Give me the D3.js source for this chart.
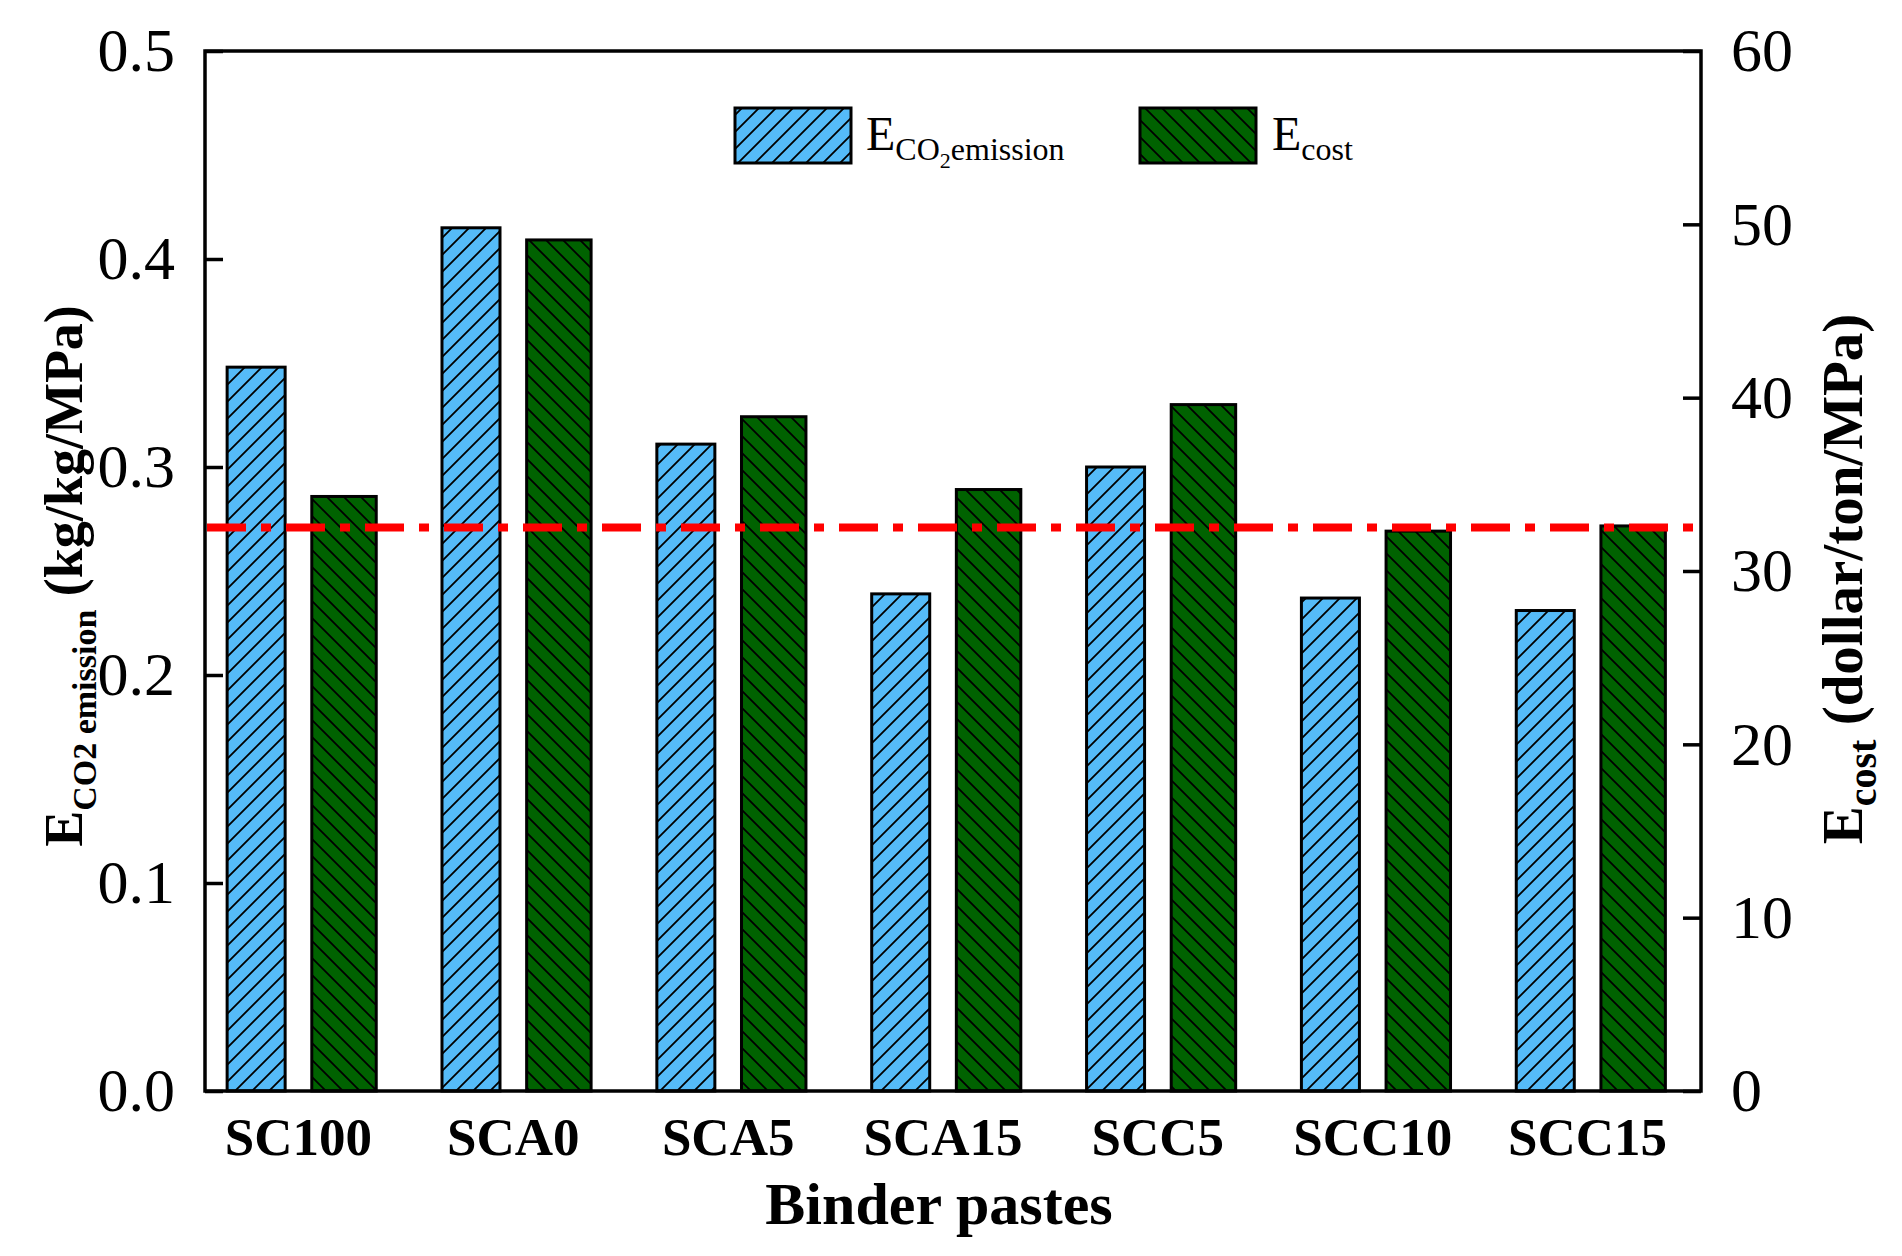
<!DOCTYPE html>
<html>
<head>
<meta charset="utf-8">
<script src="https://cdn.jsdelivr.net/npm/d3@7"></script>
<style>
  body { margin: 0; background: #fff; }
  text { font-family: "Liberation Serif", "Times New Roman", serif; }
</style>
</head>
<body>
<script>
// chart values
const categories = ["SC100", "SCA0", "SCA5", "SCA15", "SCC5", "SCC10", "SCC15"];
const co2Values = [0.348, 0.415, 0.311, 0.239, 0.300, 0.237, 0.231];
const costValues = [34.3, 49.1, 38.9, 34.7, 39.6, 32.3, 32.6];
const leftTicks = [0.0, 0.1, 0.2, 0.3, 0.4, 0.5];
const rightTicks = [0, 10, 20, 30, 40, 50, 60];
const referenceCost = 32.4;

const width = 1902, height = 1256;
const plot = { left: 205, right: 1701, top: 51, bottom: 1091 };

const svg = d3.select("body").append("svg").attr("width", width).attr("height", height);

const defs = svg.append("defs");
const makeHatch = (id, fill, d) => {
  const p = defs.append("pattern").attr("id", id).attr("patternUnits", "userSpaceOnUse")
    .attr("width", 17).attr("height", 17);
  p.append("rect").attr("width", 17).attr("height", 17).attr("fill", fill);
  p.append("path").attr("d", d).attr("stroke", "#000").attr("stroke-width", 1.8);
};
makeHatch("hatchBlue", "#55bbf8", "M-2,2 l4,-4 M0,17 l17,-17 M15,19 l4,-4");
makeHatch("hatchGreen", "#006200", "M-2,15 l4,4 M0,0 l17,17 M15,-2 l4,4");

const x = d3.scaleBand().domain(categories).range([plot.left, plot.right + 8]);
const bw = x.bandwidth();
const yLeft = d3.scaleLinear().domain([0, 0.5]).range([plot.bottom, plot.top]);
const yRight = d3.scaleLinear().domain([0, 60]).range([plot.bottom, plot.top]);

// bars
svg.selectAll(".co2").data(categories).enter().append("rect")
  .attr("x", d => x(d) + bw * 0.103).attr("width", bw * 0.27)
  .attr("y", (d, i) => yLeft(co2Values[i]))
  .attr("height", (d, i) => plot.bottom - yLeft(co2Values[i]))
  .attr("fill", "url(#hatchBlue)").attr("stroke", "#000").attr("stroke-width", 3);
svg.selectAll(".cost").data(categories).enter().append("rect")
  .attr("x", d => x(d) + bw * 0.497).attr("width", bw * 0.30)
  .attr("y", (d, i) => yRight(costValues[i]))
  .attr("height", (d, i) => plot.bottom - yRight(costValues[i]))
  .attr("fill", "url(#hatchGreen)").attr("stroke", "#000").attr("stroke-width", 3);

// reference line
svg.append("line").attr("x1", plot.left + 2).attr("x2", plot.right - 2)
  .attr("y1", yRight(referenceCost) - 2).attr("y2", yRight(referenceCost) - 2)
  .attr("stroke", "#ff0000").attr("stroke-width", 8).attr("stroke-dasharray", "39,15,10,15");

// frame
svg.append("rect").attr("x", plot.left).attr("y", plot.top)
  .attr("width", plot.right - plot.left).attr("height", plot.bottom - plot.top)
  .attr("fill", "none").attr("stroke", "#000").attr("stroke-width", 3.5);

// axes
const leftAxis = svg.append("g").attr("transform", `translate(${plot.left},0)`)
  .call(d3.axisLeft(yLeft).tickValues(leftTicks).tickFormat(d3.format(".1f")).tickSizeInner(-18).tickSizeOuter(0).tickPadding(30));
const rightAxis = svg.append("g").attr("transform", `translate(${plot.right},0)`)
  .call(d3.axisRight(yRight).tickValues(rightTicks).tickSizeInner(-18).tickSizeOuter(0).tickPadding(30));
const bottomAxis = svg.append("g").attr("transform", `translate(0,${plot.bottom})`)
  .call(d3.axisBottom(x).tickSize(0).tickPadding(26));
[leftAxis, rightAxis, bottomAxis].forEach(a => {
  a.select(".domain").remove();
  a.selectAll("line").attr("stroke", "#000").attr("stroke-width", 3.5);
});
leftAxis.selectAll("text").attr("font-size", 62).attr("font-family", "Liberation Serif").attr("fill", "#000");
rightAxis.selectAll("text").attr("font-size", 62).attr("font-family", "Liberation Serif").attr("fill", "#000");
bottomAxis.selectAll("text").attr("font-size", 53).attr("font-weight", "bold")
  .attr("font-family", "Liberation Serif").attr("fill", "#000").attr("x", -14);

// axis titles
svg.append("text").attr("x", (plot.left + plot.right) / 2 - 14).attr("y", 1224)
  .attr("text-anchor", "middle").attr("font-size", 60).attr("font-weight", "bold").text("Binder pastes");

const leftTitle = svg.append("text").attr("transform", `translate(82,${(plot.top + plot.bottom) / 2 + 5}) rotate(-90)`)
  .attr("text-anchor", "middle").attr("font-size", 54).attr("font-weight", "bold");
leftTitle.append("tspan").text("E");
leftTitle.append("tspan").attr("font-size", 34).attr("dy", 14).text("CO2 emission");
leftTitle.append("tspan").attr("dy", -14).text(" (kg/kg/MPa)");

const rightTitle = svg.append("text").attr("transform", `translate(1862,${(plot.top + plot.bottom) / 2 + 8}) rotate(-90)`)
  .attr("text-anchor", "middle").attr("font-size", 57).attr("font-weight", "bold");
rightTitle.append("tspan").text("E");
rightTitle.append("tspan").attr("font-size", 40).attr("dy", 14).text("cost");
rightTitle.append("tspan").attr("dy", -14).text(" (dollar/ton/MPa)");

// legend
const legend = svg.append("g");
legend.append("rect").attr("x", 735).attr("y", 108).attr("width", 116).attr("height", 55)
  .attr("fill", "url(#hatchBlue)").attr("stroke", "#000").attr("stroke-width", 3);
const l1 = legend.append("text").attr("x", 866).attr("y", 150).attr("font-size", 48);
l1.append("tspan").text("E");
l1.append("tspan").attr("font-size", 32).attr("dy", 10).text("CO");
l1.append("tspan").attr("font-size", 22).attr("dy", 8).text("2");
l1.append("tspan").attr("font-size", 32).attr("dy", -8).text("emission");
legend.append("rect").attr("x", 1140).attr("y", 108).attr("width", 116).attr("height", 55)
  .attr("fill", "url(#hatchGreen)").attr("stroke", "#000").attr("stroke-width", 3);
const l2 = legend.append("text").attr("x", 1272).attr("y", 150).attr("font-size", 48);
l2.append("tspan").text("E");
l2.append("tspan").attr("font-size", 32).attr("dy", 10).text("cost");
</script>
</body>
</html>
